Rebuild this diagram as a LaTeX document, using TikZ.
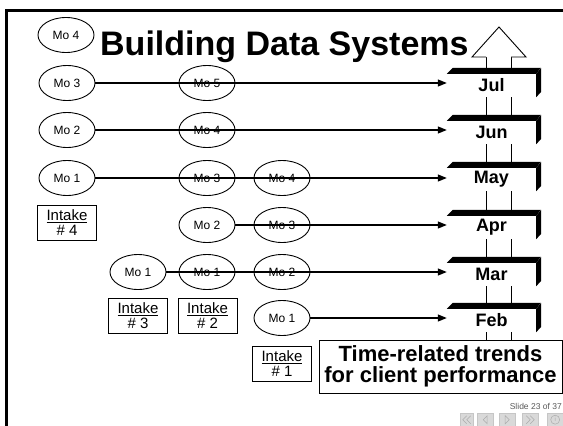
\documentclass[tikz,border=0pt]{standalone}
\usepackage{fontspec}
\setmainfont{Liberation Sans}
\usetikzlibrary{arrows.meta,calc,backgrounds,shapes.geometric}
\begin{document}
\begin{tikzpicture}[x=1pt,y=-1pt,
 mo/.style={draw,ellipse,line width=0.9pt,minimum width=56pt,minimum height=35pt,inner sep=0pt,fill=white,font=\fontsize{12}{12}\selectfont},
 intake/.style={draw,line width=0.9pt,minimum width=59pt,minimum height=35pt,inner sep=1pt,align=center,font=\fontsize{15}{15}\selectfont},
 month/.style={rectangle,fill=white,minimum width=89pt,minimum height=23pt,inner sep=0pt,font=\bfseries\fontsize{18}{18}\selectfont},
 bar/.style={fill=black},
 flow/.style={line width=1.2pt,-{Triangle[length=9pt,width=7pt]}},
 shaft/.style={line width=0.9pt},
 btn/.style={fill=gray!30,draw=gray!45,line width=0.4pt,inner sep=0pt,minimum height=13pt,anchor=north west},
 sym/.style={draw=gray!65,line width=0.5pt}]

\useasboundingbox (0,0) rectangle (563,426);
\draw[line width=3pt] (6.5,426) -- (6.5,10.5) -- (563,10.5);

% title
\node[anchor=base west,inner sep=0pt,font=\bfseries\fontsize{34}{34}\selectfont] (title) at (100,55) {Building Data Systems};

% month boxes
\foreach \n/\y/\t in {jul/85.5/Jul,jun/132.5/Jun,may/179.5/May,apr/227.5/Apr,mar/274.5/Mar,feb/320.5/Feb}{
  \node[month] (\n) at (491.5,\y) {\t};
  \fill[bar] (\n.north west) -- ++(6,-6) -- ++(88,0) -- (\n.north east) -- cycle;
  \fill[bar] (\n.north east) -- ++(5,-6) -- ++(0,24) -- (\n.south east) -- cycle;
}

% big hollow arrow head
\coordinate (hl) at (486,57);
\coordinate (hr) at (511,57);
\coordinate (tip) at (499,27);
\draw[line width=0.9pt,fill=white] (hl) -- (472,57) -- (tip) -- (526,57) -- (hr);

% text box
\node[draw,line width=0.9pt,fill=white,minimum width=243pt,minimum height=53pt,inner sep=0pt,align=center,font=\bfseries\fontsize{22}{21}\selectfont] (trend) at (440.5,366.5) {Time-related trends\\for client performance};

\begin{pgfonlayer}{background}
  \draw[shaft] (hl) -- (hl |- trend.north);
  \draw[shaft] (hr) -- (hr |- trend.north);
\end{pgfonlayer}

% ellipses
\node[mo] (t4) at (66,35) {Mo 4};
\node[mo] (a3) at (67,83) {Mo 3};
\node[mo] (b5) at (207,83) {Mo 5};
\node[mo] (a2) at (67,130) {Mo 2};
\node[mo] (b4) at (207,130) {Mo 4};
\node[mo] (a1) at (67,178) {Mo 1};
\node[mo] (b3) at (207,178) {Mo 3};
\node[mo] (c4) at (282,178) {Mo 4};
\node[mo] (b2) at (207,225) {Mo 2};
\node[mo] (c3) at (282,225) {Mo 3};
\node[mo] (d1) at (138,272) {Mo 1};
\node[mo] (b1) at (207,272) {Mo 1};
\node[mo] (c2) at (282,272) {Mo 2};
\node[mo] (c1) at (282,318) {Mo 1};

% intake boxes
\node[intake] (i4) at (67,222.5) {\underline{Intake}\\\# 4};
\node[intake] (i3) at (138,316) {\underline{Intake}\\\# 3};
\node[intake] (i2) at (207.5,316) {\underline{Intake}\\\# 2};
\node[intake] (i1) at (282,363.5) {\underline{Intake}\\\# 1};

% flow arrows
\draw[flow] (a3.east) -- (a3.east -| jul.west);
\draw[flow] (a2.east) -- (a2.east -| jun.west);
\draw[flow] (a1.east) -- (a1.east -| may.west);
\draw[flow] (b2.east) -- (b2.east -| apr.west);
\draw[flow] (d1.east) -- (d1.east -| mar.west);
\draw[flow] (c1.east) -- (c1.east -| feb.west);

% footer
\node[anchor=base east,inner sep=0pt,text=gray!70!black,font=\fontsize{8.5}{8.5}\selectfont] (slide) at (562,409) {Slide 23 of 37};
\node[btn,minimum width=13pt] (n1) at (460,413) {};
\node[btn,minimum width=16pt] (n2) at (477,413) {};
\node[btn,minimum width=16pt] (n3) at (499,413) {};
\node[btn,minimum width=16pt] (n4) at (522,413) {};
\node[btn,minimum width=16pt] (n5) at (547,413) {};
\draw[sym] ($(n1.center)+(0,-4)$) -- ++(-4,4) -- ++(4,4);
\draw[sym] ($(n1.center)+(4,-4)$) -- ++(-4,4) -- ++(4,4);
\draw[sym] ($(n2.center)+(2,-4)$) -- ++(-4,4) -- ++(4,4) -- cycle;
\draw[sym] ($(n3.center)+(-2,-4)$) -- ++(4,4) -- ++(-4,4) -- cycle;
\draw[sym] ($(n4.center)+(-4,-4)$) -- ++(4,4) -- ++(-4,4);
\draw[sym] ($(n4.center)+(0,-4)$) -- ++(4,4) -- ++(-4,4);
\draw[sym] (n5.center) circle[radius=4.5pt];
\node[inner sep=0pt,text=gray!65,font=\fontsize{6}{6}\selectfont] (n5t) at (n5.center) {i};
\end{tikzpicture}
\end{document}
